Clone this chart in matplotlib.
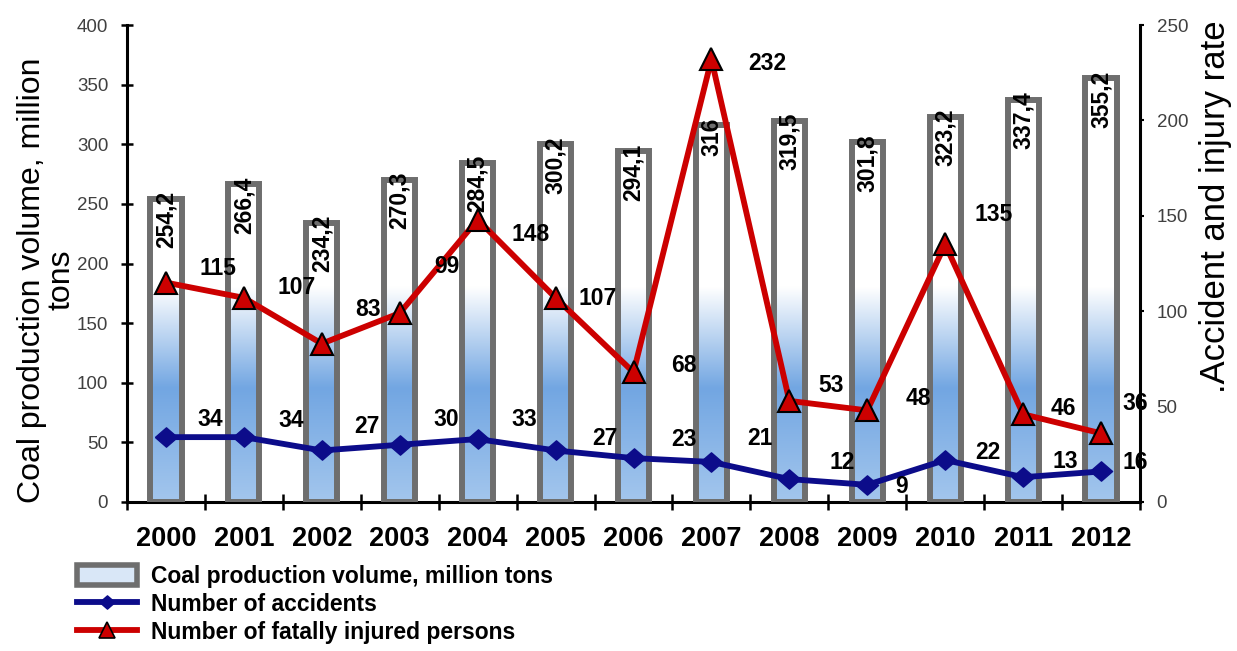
import numpy as np
import matplotlib
matplotlib.use("Agg")
import matplotlib.pyplot as plt
from matplotlib.colors import LinearSegmentedColormap
from matplotlib.lines import Line2D
from matplotlib.patches import Patch

years = ['2000', '2001', '2002', '2003', '2004', '2005', '2006',
         '2007', '2008', '2009', '2010', '2011', '2012']
coal_output = [254.2, 266.4, 234.2, 270.3, 284.5, 300.2, 294.1,
               316, 319.5, 301.8, 323.2, 337.4, 355.2]
accidents = [34, 34, 27, 30, 33, 27, 23, 21, 12, 9, 22, 13, 16]
fatalities = [115, 107, 83, 99, 148, 107, 68, 232, 53, 48, 135, 46, 36]

# where the value labels sit relative to their point (pixels, right / up)
fatal_nudge = [(52, 16), (53, 12), (46, 36), (47, 48), (53, -13), (42, 1), (50, 8),
               (56, -3), (42, 17), (51, 13), (48, 31), (40, 7), (34, 31)]
acc_nudge = [(44, 19), (47, 18), (45, 25), (47, 27), (47, 21), (49, 13), (50, 20),
             (49, 25), (53, 18), (34, 0), (43, 9), (42, 17), (34, 10)]

plt.rcParams['font.family'] = ['Liberation Sans', 'DejaVu Sans']

W, H = 1237, 651
fig = plt.figure(figsize=(W / 100, H / 100), dpi=100)
ax = fig.add_axes([127 / W, 1 - 502 / H, (1140 - 127) / W, (502 - 25) / H])
ax2 = ax.twinx()

x = np.arange(len(years))
bars = ax.bar(x, coal_output, width=0.40, facecolor='none',
              edgecolor='#6e6e6e', linewidth=4.3, zorder=3)

# white -> blue fade, fixed to the value axis so all bars share it
fade = LinearSegmentedColormap.from_list(
    'fade', [(0, '#a3c6ed'), (95 / 400, '#72a6e2'), (180 / 400, '#ffffff'), (1, '#ffffff')])
grad = np.linspace(0, 1, 256).reshape(-1, 1)
for b in bars:
    im = ax.imshow(grad, cmap=fade, extent=(-0.5, 12.5, 0, 400), origin='lower',
                   aspect='auto', interpolation='bilinear', zorder=2)
    im.set_clip_path(b)

for xi, v in zip(x, coal_output):
    ax.annotate(f'{v:g}'.replace('.', ','), (xi, v), xytext=(0, 8),
                textcoords='offset pixels', rotation=90, ha='center', va='top',
                fontsize=16.5, fontweight='bold', zorder=4)

diamond = [(-1.15, 0), (0, 1), (1.15, 0), (0, -1), (-1.15, 0)]
ax2.plot(x, accidents, color='#0c0c8a', lw=4.2, marker=diamond, ms=16, zorder=3)
ax2.plot(x, fatalities, color='#cc0000', lw=4.2, marker='^', ms=16,
         mfc='#cc0000', mec='black', mew=1.5, zorder=4)

for xi, v, (dx, dy) in zip(x, fatalities, fatal_nudge):
    ax2.annotate(str(v), (xi, v), xytext=(dx, dy - 8), textcoords='offset pixels',
                 ha='center', va='baseline', fontsize=16.5, fontweight='bold', zorder=5)
for xi, v, (dx, dy) in zip(x, accidents, acc_nudge):
    ax2.annotate(str(v), (xi, v), xytext=(dx, dy - 8), textcoords='offset pixels',
                 ha='center', va='baseline', fontsize=16.5, fontweight='bold', zorder=5)

ax.set_xlim(-0.5, 12.5)
ax.set_ylim(0, 400)
ax2.set_ylim(0, 250)
ax.set_yticks(np.arange(0, 401, 50))
ax2.set_yticks(np.arange(0, 251, 50))
ax.set_xticks(np.arange(-0.5, 13, 1))
ax.set_xticklabels([])
ax.set_xticks(x, minor=True)
ax.set_xticklabels(years, minor=True, fontsize=19.5, fontweight='bold')
ax.tick_params(axis='x', which='major', direction='inout', length=11, width=1.8)
ax.tick_params(axis='x', which='minor', length=0, pad=17)
ax.tick_params(axis='y', direction='inout', length=9, width=1.8,
               labelsize=13.5, labelcolor='#404040', pad=9)
ax2.tick_params(axis='y', direction='out', length=3, width=1.5,
                labelsize=13.5, labelcolor='#404040', pad=9)

for s in ['top', 'right']:
    ax.spines[s].set_visible(False)
for s in ['top', 'left', 'bottom']:
    ax2.spines[s].set_visible(False)
for s in ['left', 'bottom']:
    ax.spines[s].set_linewidth(2.2)
ax2.spines['right'].set_linewidth(2.2)

fig.text(47 / W, 1 - 280 / H, 'Coal production volume, million\ntons', rotation=90,
         ha='center', va='center', fontsize=23, linespacing=1.0, multialignment='center')
fig.text(1215 / W, 1 - 207 / H, '.Accident and injury rate', rotation=90,
         ha='center', va='center', fontsize=25)

handles = [
    Patch(facecolor='#d9e7f7', edgecolor='#6e6e6e', linewidth=4),
    Line2D([], [], color='#0c0c8a', lw=4.2, marker=diamond, ms=11),
    Line2D([], [], color='#cc0000', lw=4.2, marker='^', ms=11, mfc='#cc0000', mec='black', mew=1.2),
]
labels = ['Coal production volume, million tons', 'Number of accidents',
          'Number of fatally injured persons']
fig.legend(handles, labels, loc='upper left', bbox_to_anchor=(77 / W, 1 - 565 / H),
           bbox_transform=fig.transFigure, frameon=False, borderpad=0, borderaxespad=0,
           handlelength=2.6, handleheight=0.95, handletextpad=0.62, labelspacing=0.22,
           prop={'weight': 'bold', 'size': 16.5})

fig.savefig('out.png', dpi=100)
